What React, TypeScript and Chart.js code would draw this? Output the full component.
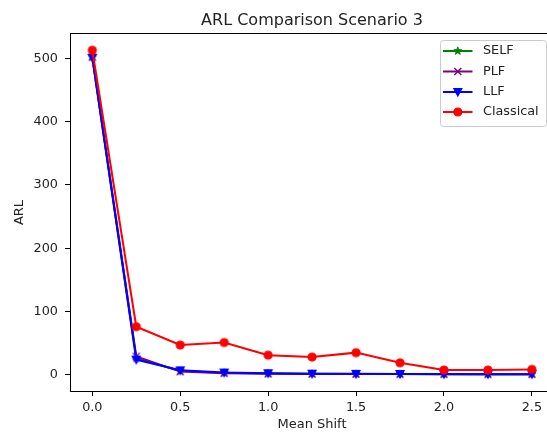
import React, { useEffect, useRef } from "react";
import { Chart, registerables } from "chart.js";

Chart.register(...registerables);

// ---- data ----
const meanShift = [0, 0.25, 0.5, 0.75, 1.0, 1.25, 1.5, 1.75, 2.0, 2.25, 2.5];
const selfArl = [503, 26, 6, 3, 2, 1.5, 1.2, 1.1, 1, 1, 1];
const plfArl = [502, 29, 5, 2.5, 1.8, 1.4, 1.2, 1.1, 1, 1, 1];
const llfArl = [501, 24, 7, 3.5, 2.5, 1.8, 1.5, 1.3, 1.1, 1, 1];
const classicalArl = [513, 76, 47, 51, 31, 28, 35, 19, 7.5, 7.5, 8.5];
const seriesNames = ["SELF", "PLF", "LLF", "Classical"];
const xTickValues = [0, 0.5, 1.0, 1.5, 2.0, 2.5];
const yTickValues = [0, 100, 200, 300, 400, 500];
const titleText = "ARL Comparison Scenario 3";
const xLabel = "Mean Shift";
const yLabel = "ARL";

// ---- styles ----
const FONT = "'DejaVu Sans', sans-serif";
const TEXT = "#222";
const colors = ["#008000", "#800080", "#0000ff", "#ff0000"];
const markers = ["star", "x", "v", "o"];

function drawMarker(ctx: CanvasRenderingContext2D, kind: string, x: number, y: number, color: string) {
  ctx.save();
  ctx.fillStyle = color;
  ctx.strokeStyle = color;
  ctx.lineWidth = 1.2;
  ctx.beginPath();
  if (kind === "o") {
    ctx.arc(x, y, 4, 0, Math.PI * 2);
    ctx.fill();
    ctx.stroke();
  } else if (kind === "v") {
    ctx.moveTo(x - 4, y - 3.5);
    ctx.lineTo(x + 4, y - 3.5);
    ctx.lineTo(x, y + 4);
    ctx.closePath();
    ctx.fill();
    ctx.stroke();
  } else if (kind === "x") {
    ctx.lineWidth = 1.4;
    ctx.moveTo(x - 3.5, y - 3.5);
    ctx.lineTo(x + 3.5, y + 3.5);
    ctx.moveTo(x - 3.5, y + 3.5);
    ctx.lineTo(x + 3.5, y - 3.5);
    ctx.stroke();
  } else if (kind === "star") {
    const R = 4.2;
    const r = 1.8;
    for (let i = 0; i < 10; i++) {
      const a = -Math.PI / 2 + (i * Math.PI) / 5;
      const rad = i % 2 === 0 ? R : r;
      const px = x + rad * Math.cos(a);
      const py = y + rad * Math.sin(a);
      if (i === 0) ctx.moveTo(px, py);
      else ctx.lineTo(px, py);
    }
    ctx.closePath();
    ctx.fill();
    ctx.lineWidth = 0.8;
    ctx.stroke();
  }
  ctx.restore();
}

function markerCanvas(kind: string, color: string): HTMLCanvasElement {
  const c = document.createElement("canvas");
  c.width = 12;
  c.height = 12;
  const ctx = c.getContext("2d")!;
  drawMarker(ctx, kind, 6, 6, color);
  return c;
}

// The reference axes continue past the right edge of the picture (right spine not visible)
const AXES_CENTER_X = 312;

const decorPlugin = {
  id: "decor",
  afterDraw(chart: any) {
    const ctx: CanvasRenderingContext2D = chart.ctx;
    const { left, right } = chart.chartArea;
    ctx.save();
    // top spine
    ctx.strokeStyle = "#000";
    ctx.lineWidth = 1;
    ctx.beginPath();
    ctx.moveTo(left, 33.5);
    ctx.lineTo(right + 2, 33.5);
    ctx.stroke();
    // title
    ctx.fillStyle = TEXT;
    ctx.font = `16px ${FONT}`;
    ctx.textAlign = "center";
    ctx.textBaseline = "alphabetic";
    ctx.fillText(titleText, AXES_CENTER_X, 25);
    // x label
    ctx.font = `13px ${FONT}`;
    ctx.fillText(xLabel, AXES_CENTER_X, 428);
    // legend
    const bx = 440.5, by = 40.5, bw = 106, bh = 86, br = 3;
    ctx.beginPath();
    ctx.moveTo(bx + br, by);
    ctx.lineTo(bx + bw - br, by);
    ctx.arcTo(bx + bw, by, bx + bw, by + br, br);
    ctx.lineTo(bx + bw, by + bh - br);
    ctx.arcTo(bx + bw, by + bh, bx + bw - br, by + bh, br);
    ctx.lineTo(bx + br, by + bh);
    ctx.arcTo(bx, by + bh, bx, by + bh - br, br);
    ctx.lineTo(bx, by + br);
    ctx.arcTo(bx, by, bx + br, by, br);
    ctx.closePath();
    ctx.fillStyle = "rgba(255,255,255,0.8)";
    ctx.fill();
    ctx.strokeStyle = "#cccccc";
    ctx.stroke();
    const rowY = [51, 71.5, 92, 112];
    seriesNames.forEach((name, i) => {
      const y = rowY[i];
      ctx.strokeStyle = colors[i];
      ctx.lineWidth = 2;
      ctx.beginPath();
      ctx.moveTo(443, y);
      ctx.lineTo(472.5, y);
      ctx.stroke();
      drawMarker(ctx, markers[i], 457.8, y, colors[i]);
      ctx.fillStyle = TEXT;
      ctx.font = `12.8px ${FONT}`;
      ctx.textAlign = "left";
      ctx.textBaseline = "middle";
      ctx.fillText(name, 483, y);
    });
    ctx.restore();
  },
};

export default function App() {
  const ref = useRef<HTMLCanvasElement | null>(null);

  useEffect(() => {
    if (!ref.current) return;
    const values = [selfArl, plfArl, llfArl, classicalArl];
    const datasets = values.map((arr, i) => ({
      label: seriesNames[i],
      data: meanShift.map((x, j) => ({ x, y: arr[j] })),
      borderColor: colors[i],
      backgroundColor: colors[i],
      borderWidth: 2,
      pointStyle: markerCanvas(markers[i], colors[i]),
      pointRadius: 4,
      pointHoverRadius: 4,
      order: 4 - i,
      tension: 0,
    }));
    const tickFont = { family: FONT, size: 12.8 };
    const chart = new Chart(ref.current, {
      type: "line",
      data: { datasets },
      options: {
        animation: false,
        responsive: false,
        maintainAspectRatio: false,
        layout: { autoPadding: false, padding: { top: 34, left: 0, right: 0, bottom: 0 } },
        plugins: {
          legend: { display: false },
          title: { display: false },
          tooltip: { enabled: false },
        },
        scales: {
          x: {
            type: "linear",
            min: -0.127,
            max: 2.586,
            afterBuildTicks: (s: any) => {
              s.ticks = xTickValues.map((v) => ({ value: v }));
            },
            afterFit: (s: any) => {
              s.height = 41;
              s.paddingLeft = 0;
              s.paddingRight = 0;
            },
            ticks: {
              callback: (v: any) => Number(v).toFixed(1),
              font: tickFont,
              color: TEXT,
              padding: 4,
              maxRotation: 0,
              autoSkip: false,
            },
            grid: { drawOnChartArea: false, drawTicks: true, tickLength: 5, color: "#000" },
            border: { display: true, color: "#000", width: 1 },
            title: { display: false },
          },
          y: {
            type: "linear",
            min: -25.65,
            max: 538.65,
            afterBuildTicks: (s: any) => {
              s.ticks = yTickValues.map((v) => ({ value: v }));
            },
            afterFit: (s: any) => {
              s.width = 70;
              s.paddingTop = 0;
              s.paddingBottom = 0;
            },
            ticks: {
              callback: (v: any) => String(v),
              font: tickFont,
              color: TEXT,
              padding: 7,
            },
            grid: { drawOnChartArea: false, drawTicks: true, tickLength: 5, color: "#000" },
            border: { display: true, color: "#000", width: 1 },
            title: {
              display: true,
              text: yLabel,
              font: { family: FONT, size: 13 },
              color: TEXT,
              padding: { top: 12, bottom: 0 },
            },
          },
        },
      } as any,
      plugins: [decorPlugin],
    });
    return () => chart.destroy();
  }, []);

  return (
    <div
      style={{
        position: "fixed",
        left: 0,
        top: 0,
        width: 547,
        height: 432,
        overflow: "hidden",
        background: "#fff",
      }}
    >
      <canvas ref={ref} width={547} height={432} style={{ width: 547, height: 432, display: "block" }} />
    </div>
  );
}
